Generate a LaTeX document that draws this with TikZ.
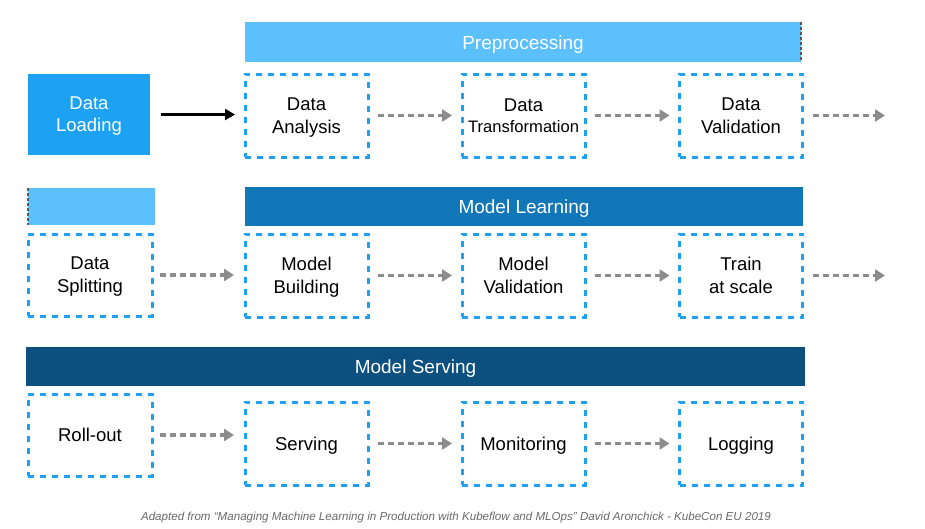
\documentclass[tikz,border=0pt]{standalone}
\usepackage{fontspec}
\setmainfont{Liberation Sans}
\usetikzlibrary{arrows.meta,positioning}
\definecolor{boxblue}{RGB}{29,161,242}
\definecolor{lightbar}{RGB}{91,192,251}
\definecolor{midbar}{RGB}{18,119,185}
\definecolor{darkbar}{RGB}{11,80,127}
\definecolor{arrowgray}{RGB}{140,140,140}
\definecolor{edgegray}{RGB}{90,90,90}
\definecolor{capgray}{RGB}{105,105,105}
\tikzset{
  stepbox/.style={draw=boxblue,line width=3pt,dash pattern=on 6pt off 6pt,
    minimum width=123pt,minimum height=83pt,inner sep=0pt,outer sep=0pt,
    align=center,font=\fontsize{18.5}{23}\selectfont,text=black,text depth=0pt},
  barbox/.style={fill=#1,inner sep=0pt,outer sep=0pt},
  bartext/.style={text=white,font=\fontsize{19}{22}\selectfont,inner sep=0pt,anchor=base},
  flow/.style={draw=arrowgray,line width=3.5pt,dash pattern=on 6pt off 4pt,
    -{Triangle[length=10pt,width=12pt,fill=arrowgray]},shorten <=10pt,shorten >=10pt},
  solidflow/.style={draw=black,line width=2.5pt,
    -{Triangle[length=10pt,width=11pt]},shorten <=11pt,shorten >=10pt},
}
\begin{document}
\begin{tikzpicture}[x=1pt,y=-1pt]
\useasboundingbox (0,0) rectangle (925,528);
% row 1
\node[barbox=lightbar,minimum width=556pt,minimum height=40pt] (pre) at (523,42) {};
\node[bartext] (pretxt) at ([yshift=-7.3pt]pre.center) {Preprocessing};
\draw[edgegray,line width=2pt,dash pattern=on 3pt off 2pt] (pre.north east) -- (pre.south east);
\node[barbox=boxblue,minimum width=122pt,minimum height=81pt,align=center,text=white,
  font=\fontsize{18.5}{22}\selectfont,text depth=0pt] (load) at (89,114.5) {Data\\Loading};
\node[stepbox] (ana) at (306.5,115.5) {Data\\Analysis};
\node[stepbox,font=\fontsize{18.5}{21}\selectfont] (tra) at (523.5,115.5) {Data\\{\fontsize{16.6}{21}\selectfont Transformation}};
\node[stepbox] (val) at (741,115.5) {Data\\Validation};
\coordinate (r1end) at (885,115.5);
\draw[solidflow] (load.east) -- (load.east -| ana.west);
\draw[flow] (ana) -- (tra);
\draw[flow] (tra) -- (val);
\draw[flow] (val.east) -- ([xshift=10pt]r1end);
% row 2
\node[barbox=lightbar,minimum width=127pt,minimum height=37pt] (lb) at (91.5,206.5) {};
\draw[edgegray,line width=2pt,dash pattern=on 3pt off 2pt] (lb.north west) -- (lb.south west);
\node[barbox=midbar,minimum width=558pt,minimum height=39pt] (ml) at (524,206.5) {};
\node[bartext] (mltxt) at ([yshift=-7pt]ml.center) {Model Learning};
\node[stepbox,minimum width=124pt,minimum height=82pt] (spl) at (90,275) {Data\\Splitting};
\node[stepbox] (bld) at (306.5,275.5) {Model\\Building};
\node[stepbox] (mval) at (523.5,275.5) {Model\\Validation};
\node[stepbox] (trn) at (741,275.5) {Train\\at scale};
\coordinate (r2end) at (885,275.5);
\draw[flow,shorten <=8pt,shorten >=11pt] (spl.east) -- (spl.east -| bld.west);
\draw[flow] (bld) -- (mval);
\draw[flow] (mval) -- (trn);
\draw[flow] (trn.east) -- ([xshift=10pt]r2end);
% row 3
\node[barbox=darkbar,minimum width=779pt,minimum height=39pt] (ms) at (415.5,366.5) {};
\node[bartext] (mstxt) at ([yshift=-7pt]ms.center) {Model Serving};
\node[stepbox,minimum width=124pt,minimum height=82pt] (rol) at (90,435) {Roll-out};
\node[stepbox] (srv) at (306.5,443.5) {Serving};
\node[stepbox] (mon) at (523.5,443.5) {Monitoring};
\node[stepbox] (log) at (741,443.5) {Logging};
\draw[flow,shorten <=8pt,shorten >=11pt] (rol.east) -- (rol.east -| srv.west);
\draw[flow] (srv) -- (mon);
\draw[flow] (mon) -- (log);
% caption
\node[text=capgray,font=\fontsize{11.6}{13}\selectfont\itshape,inner sep=0pt,anchor=base] (cap) at (456,520)
  {Adapted from “Managing Machine Learning in Production with Kubeflow and MLOps” David Aronchick - KubeCon EU 2019};
\end{tikzpicture}
\end{document}
